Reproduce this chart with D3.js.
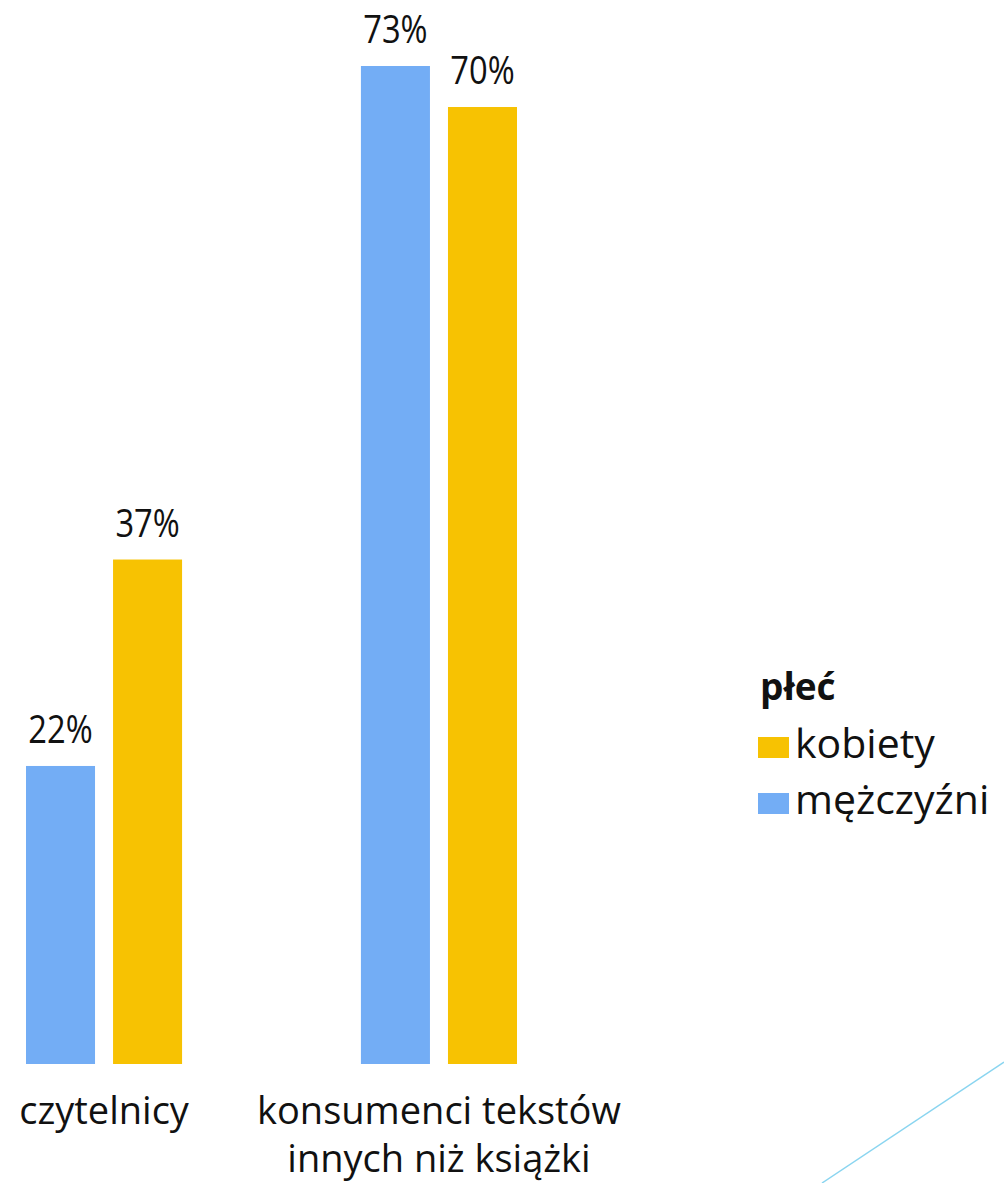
<!DOCTYPE html>
<html>
<head>
<meta charset="utf-8">
<script src="https://cdn.jsdelivr.net/npm/d3@7"></script>
<style>
    html, body { margin: 0; padding: 0; background: #fff; }
    text { font-family: "Open Sans", sans-serif; fill: #111; }
</style>
</head>
<body>
<div id="chart"></div>
<script>
"use strict"

// categories (label lines) and series
let categories = ["czytelnicy", "konsumenci tekstów innych niż książki"];
let categoryLines = [["czytelnicy"], ["konsumenci tekstów", "innych niż książki"]];
let seriesNames = ["mężczyźni", "kobiety"];
let legendOrder = ["kobiety", "mężczyźni"];
let legendTitle = "płeć";

// values in %, per series, same order as categories
let menValues = [21.8, 73];
let womenValues = [36.9, 70];

let seriesColors = {
    "mężczyźni": "#73adf5",
    "kobiety": "#f7c202"
};

let width = 1004,
    height = 1183;

let svg = d3.select("#chart").append("svg")
    .attr("width", width)
    .attr("height", height);

svg.append("rect")
    .attr("width", width)
    .attr("height", height)
    .style("fill", "#fff");

let data = categories.map(function(c, i) {
    return {
        category: c,
        lines: categoryLines[i],
        values: [
            { series: "mężczyźni", value: menValues[i] },
            { series: "kobiety", value: womenValues[i] }
        ]
    };
});

let x0 = d3.scaleBand()
    .domain(categories)
    .range([26, 517])
    .paddingInner(0.534)
    .paddingOuter(0);

let x1 = d3.scaleBand()
    .domain(seriesNames)
    .range([0, x0.bandwidth()])
    .paddingInner(0.207);

let maxValue = d3.max(menValues.concat(womenValues));

let y = d3.scaleLinear()
    .domain([0, maxValue])
    .range([1064, 66]);

let formatPct = d3.format(".0f");

let groups = svg.selectAll(".group")
    .data(data)
    .enter().append("g")
    .attr("class", "group")
    .attr("transform", d => "translate(" + x0(d.category) + ",0)");

groups.selectAll("rect")
    .data(d => d.values)
    .enter().append("rect")
    .attr("x", d => x1(d.series))
    .attr("y", d => y(d.value))
    .attr("width", x1.bandwidth())
    .attr("height", d => y(0) - y(d.value))
    .style("fill", d => seriesColors[d.series]);

// value labels above bars (narrow, tall digits like the original)
groups.selectAll(".valueLabel")
    .data(d => d.values)
    .enter().append("text")
    .attr("class", "valueLabel")
    .attr("transform", d => "translate(" + (x1(d.series) + x1.bandwidth() / 2) + "," + (y(d.value) - 23) + ") scale(0.86,1)")
    .style("font-size", "38px")
    .style("text-anchor", "middle")
    .text(d => formatPct(d.value) + "%");

// category labels
groups.each(function(d) {
    let label = d3.select(this).append("text")
        .attr("x", x0.bandwidth() / 2)
        .attr("y", 1124)
        .style("font-size", "38px")
        .style("text-anchor", "middle");

    d.lines.forEach(function(line, i) {
        label.append("tspan")
            .attr("x", x0.bandwidth() / 2)
            .attr("dy", i === 0 ? 0 : 48)
            .text(line);
    });
});

// legend
let legend = svg.append("g")
    .attr("transform", "translate(758,0)");

legend.append("text")
    .attr("x", 2)
    .attr("y", 700)
    .style("font-size", "37px")
    .style("font-weight", "bold")
    .text(legendTitle);

let legendItems = legend.selectAll(".legendItem")
    .data(legendOrder)
    .enter().append("g")
    .attr("class", "legendItem")
    .attr("transform", (d, i) => "translate(0," + (737 + i * 56) + ")");

legendItems.append("rect")
    .attr("width", 31)
    .attr("height", 21)
    .style("fill", d => seriesColors[d]);

legendItems.append("text")
    .attr("x", 37)
    .attr("y", 21)
    .style("font-size", "41px")
    .text(d => d);

// decorative line in the bottom-right corner
svg.append("line")
    .attr("x1", 1004)
    .attr("y1", 1062)
    .attr("x2", 822)
    .attr("y2", 1183)
    .style("stroke", "#8ad5f0")
    .style("stroke-width", 1.5);
</script>
</body>
</html>
